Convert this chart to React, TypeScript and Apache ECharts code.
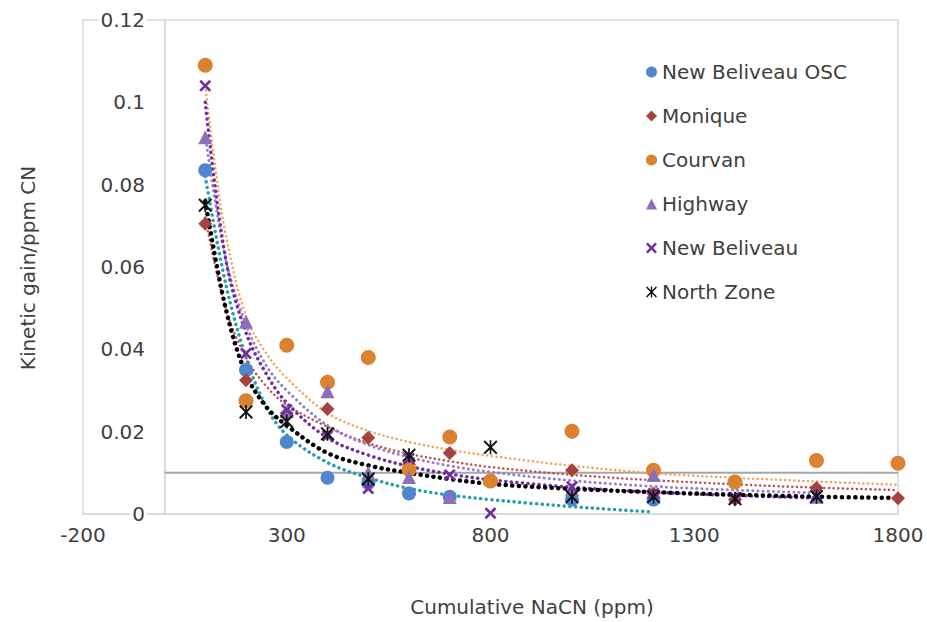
import React, { useEffect, useRef } from "react";
import * as echarts from "echarts";

// ---- data ----
const X_MIN = -200;
const X_MAX = 1800;
const X_INTERVAL = 500;
const Y_MIN = 0;
const Y_MAX = 0.12;
const Y_INTERVAL = 0.02;

const SERIES_NAMES = [
  "New Beliveau OSC",
  "Monique",
  "Courvan",
  "Highway",
  "New Beliveau",
  "North Zone",
];

const oscPoints = [
  [100, 0.0835], [200, 0.035], [300, 0.0175], [400, 0.0088], [500, 0.0075],
  [600, 0.005], [700, 0.0042], [1000, 0.0035], [1200, 0.0035],
];
const moniquePoints = [
  [100, 0.0705], [200, 0.0325], [300, 0.0245], [400, 0.0255], [500, 0.0185],
  [600, 0.012], [700, 0.0148], [1000, 0.0106], [1200, 0.005], [1400, 0.0035],
  [1600, 0.0063], [1800, 0.0038],
];
const courvanPoints = [
  [100, 0.109], [200, 0.0275], [300, 0.041], [400, 0.032], [500, 0.038],
  [600, 0.0108], [700, 0.0187], [800, 0.008], [1000, 0.0201], [1200, 0.0106],
  [1400, 0.0078], [1600, 0.013], [1800, 0.0123],
];
const highwayPoints = [
  [100, 0.0915], [200, 0.0467], [300, 0.025], [400, 0.0298], [500, 0.01],
  [600, 0.009], [700, 0.0041], [1000, 0.006], [1200, 0.0095], [1600, 0.0042],
];
const newBeliveauPoints = [
  [100, 0.104], [200, 0.039], [300, 0.0253], [400, 0.019], [500, 0.0062],
  [600, 0.0135], [700, 0.0095], [800, 0.0002], [1000, 0.0066], [1200, 0.005],
  [1400, 0.004], [1600, 0.0045],
];
const northZonePoints = [
  [100, 0.075], [200, 0.0248], [300, 0.0225], [400, 0.0195], [500, 0.0085],
  [600, 0.0143], [800, 0.0162], [1000, 0.0042], [1200, 0.0042], [1400, 0.0037],
  [1600, 0.0042],
];

// trendlines
const oscTrend = [
  [100, 0.082], [150, 0.056], [200, 0.038], [250, 0.026], [300, 0.0192],
  [400, 0.0125], [500, 0.0088], [600, 0.0062], [700, 0.0046], [800, 0.0035],
  [900, 0.0026], [1000, 0.0018], [1100, 0.0011], [1200, 0.0005],
];
const moniqueTrend = [
  [100, 0.072], [150, 0.05], [200, 0.038], [250, 0.031], [300, 0.0265],
  [400, 0.0212], [500, 0.0172], [600, 0.0146], [700, 0.0128], [800, 0.0114],
  [1000, 0.0095], [1200, 0.0082], [1400, 0.0072], [1600, 0.0064], [1800, 0.0058],
];
const courvanTrend = [
  [100, 0.104], [125, 0.084], [150, 0.068], [200, 0.048], [250, 0.039],
  [300, 0.033], [400, 0.0245], [500, 0.0202], [600, 0.0175], [700, 0.0156],
  [800, 0.0141], [1000, 0.0117], [1200, 0.0099], [1400, 0.0088], [1600, 0.0079],
  [1800, 0.0071],
];
const highwayTrend = [
  [100, 0.092], [150, 0.062], [200, 0.046], [250, 0.036], [300, 0.03],
  [400, 0.0215], [500, 0.0168], [600, 0.0138], [700, 0.0117], [800, 0.0102],
  [1000, 0.0081], [1200, 0.0067], [1400, 0.0058], [1600, 0.0051],
];
const newBeliveauTrend = [
  [100, 0.1], [150, 0.062], [200, 0.044], [250, 0.034], [300, 0.027],
  [400, 0.0185], [500, 0.0143], [600, 0.0116], [700, 0.0097], [800, 0.0083],
  [1000, 0.0065], [1200, 0.0053], [1400, 0.0045], [1600, 0.0039],
];
const northZoneTrend = [
  [100, 0.076], [150, 0.05], [200, 0.034], [250, 0.026], [300, 0.0215],
  [400, 0.0148], [500, 0.0118], [600, 0.01], [700, 0.0085], [800, 0.0073],
  [1000, 0.0061], [1200, 0.0053], [1400, 0.0047], [1600, 0.0042], [1800, 0.0039],
];

const thresholdLine = [[0, 0.01], [1800, 0.01]];

// ---- styling ----
const FONT = "DejaVu Sans";
const TEXT_COLOR = "#404040";
const AXIS_COLOR = "#d9d9d9";
const FONT_SIZE = 20;

const X_SYMBOL =
  "path://M0,1.6L1.6,0L5,3.4L8.4,0L10,1.6L6.6,5L10,8.4L8.4,10L5,6.6L1.6,10L0,8.4L3.4,5Z";
const STAR_SYMBOL =
  "path://M0,1L1,0L5,4L9,0L10,1L6,5L10,9L9,10L5,6L1,10L0,9L4,5Z M4.4,0H5.6V10H4.4Z";

const markerStyles = [
  { color: "#4F87CE", symbol: "circle", size: 14 },
  { color: "#A5433E", symbol: "diamond", size: 14 },
  { color: "#DA8230", symbol: "circle", size: 15 },
  { color: "#8B6FB8", symbol: "triangle", size: 14 },
  { color: "#7030A0", symbol: X_SYMBOL, size: 12 },
  { color: "#111111", symbol: STAR_SYMBOL, size: 14 },
];

const trendStyles = [
  { color: "#2A9DB0", width: 3.5 },
  { color: "#C0504D", width: 2.5 },
  { color: "#F4A45A", width: 2.5 },
  { color: "#9A7FC8", width: 3 },
  { color: "#7030A0", width: 3.5 },
  { color: "#000000", width: 4.5 },
];

const POINTS = [oscPoints, moniquePoints, courvanPoints, highwayPoints, newBeliveauPoints, northZonePoints];
const TRENDS = [oscTrend, moniqueTrend, courvanTrend, highwayTrend, newBeliveauTrend, northZoneTrend];

const GRID_LEFT = 83;
const Y_AXIS_PX = 165; // pixel position of x = 0, where the y labels sit

export default function App() {
  const ref = useRef<HTMLDivElement>(null);

  useEffect(() => {
    document.body.style.margin = "0";
    if (!ref.current) return;
    const chart = echarts.init(ref.current, null, { renderer: "svg" });

    const trendSeries = TRENDS.map((data, i) => ({
      name: "trend-" + i,
      type: "line",
      data,
      smooth: 0.35,
      showSymbol: false,
      symbol: "none",
      silent: true,
      z: 2,
      lineStyle: {
        color: trendStyles[i].color,
        width: trendStyles[i].width,
        type: [0.1, trendStyles[i].width + 2],
        cap: "round",
      },
    }));

    const scatterSeries = POINTS.map((data, i) => ({
      name: SERIES_NAMES[i],
      type: "scatter",
      data,
      symbol: markerStyles[i].symbol,
      symbolSize: markerStyles[i].size,
      itemStyle: { color: markerStyles[i].color, opacity: 1 },
      z: 3,
    }));

    chart.setOption({
      animation: false,
      grid: {
        left: GRID_LEFT,
        right: 29,
        top: 20,
        bottom: 108,
        show: true,
        borderColor: AXIS_COLOR,
        borderWidth: 1.5,
        backgroundColor: "transparent",
      },
      xAxis: {
        type: "value",
        min: X_MIN,
        max: X_MAX,
        interval: X_INTERVAL,
        axisLine: { show: true, onZero: true, lineStyle: { color: AXIS_COLOR, width: 2 } },
        axisTick: { show: false },
        splitLine: { show: false },
        axisLabel: {
          color: TEXT_COLOR,
          fontFamily: FONT,
          fontSize: FONT_SIZE,
          margin: 11,
          formatter: (v: number) => String(v),
        },
      },
      yAxis: {
        type: "value",
        min: Y_MIN,
        max: Y_MAX,
        interval: Y_INTERVAL,
        axisLine: { show: true, onZero: true, lineStyle: { color: AXIS_COLOR, width: 2 } },
        axisTick: { show: false },
        splitLine: { show: false },
        axisLabel: {
          color: TEXT_COLOR,
          fontFamily: FONT,
          fontSize: FONT_SIZE,
          margin: GRID_LEFT - (Y_AXIS_PX - 18),
          backgroundColor: "#ffffff",
          padding: [0, 2],
          formatter: (v: number) => String(parseFloat(v.toFixed(4))),
        },
      },
      legend: {
        data: SERIES_NAMES,
        orient: "vertical",
        left: 641,
        top: 57,
        itemWidth: 11,
        itemHeight: 11,
        itemGap: 24,
        selectedMode: false,
        textStyle: {
          color: TEXT_COLOR,
          fontFamily: FONT,
          fontSize: FONT_SIZE,
          lineHeight: 20,
        },
      },
      graphic: [
        {
          type: "text",
          x: 532,
          y: 607,
          style: {
            text: "Cumulative NaCN (ppm)",
            fill: TEXT_COLOR,
            font: `${FONT_SIZE}px "${FONT}"`,
            align: "center",
            verticalAlign: "middle",
          },
        },
        {
          type: "text",
          x: 28,
          y: 268,
          rotation: Math.PI / 2,
          style: {
            text: "Kinetic gain/ppm CN",
            fill: TEXT_COLOR,
            font: `${FONT_SIZE}px "${FONT}"`,
            align: "center",
            verticalAlign: "middle",
          },
        },
      ],
      series: [
        {
          name: "threshold",
          type: "line",
          data: thresholdLine,
          showSymbol: false,
          symbol: "none",
          silent: true,
          z: 1,
          lineStyle: { color: "#a6a6a6", width: 2 },
        },
        ...trendSeries,
        ...scatterSeries,
      ],
    });

    return () => chart.dispose();
  }, []);

  return <div ref={ref} style={{ width: 927, height: 622 }} />;
}
